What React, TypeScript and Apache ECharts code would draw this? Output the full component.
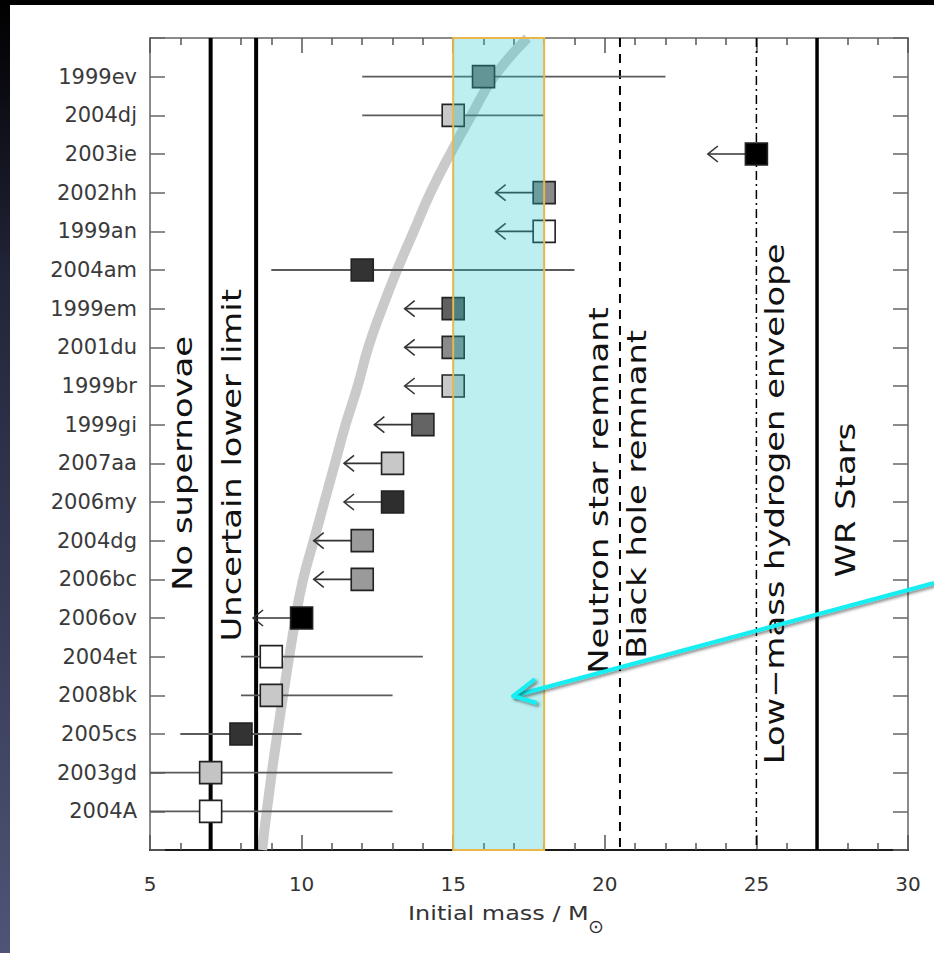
import React, { useEffect, useRef } from 'react';
import * as echarts from 'echarts';

// Supernovae, listed top to bottom
const SUPERNOVAE = [
  '1999ev', '2004dj', '2003ie', '2002hh', '1999an', '2004am', '1999em', '2001du', '1999br', '1999gi',
  '2007aa', '2006my', '2004dg', '2006bc', '2006ov', '2004et', '2008bk', '2005cs', '2003gd', '2004A',
];
// Progenitor initial mass estimate (solar masses)
const MASS = [16, 15, 25, 18, 18, 12, 15, 15, 15, 14, 13, 13, 12, 12, 10, 9, 9, 8, 7, 7];
// Error range for detections; null where only an upper limit exists
const ERR_LOW = [12, 12, null, null, null, 9, null, null, null, null, null, null, null, null, null, 8, 8, 6, 5, 5];
const ERR_HIGH = [22, 18, null, null, null, 19, null, null, null, null, null, null, null, null, null, 14, 13, 10, 13, 13];
const IS_UPPER_LIMIT = [
  false, false, true, true, true, false, true, true, true, true,
  true, true, true, true, true, false, false, false, false, false,
];
const LIMIT_ARROW = 1.6;

// Marker greys
const MARKER_FILL = [
  '#7e7e7e', '#c8c8c8', '#000000', '#8a8a8a', '#ffffff', '#333333', '#606060', '#8a8a8a', '#c8c8c8', '#646464',
  '#c8c8c8', '#2e2e2e', '#9a9a9a', '#9a9a9a', '#000000', '#ffffff', '#c8c8c8', '#333333', '#c4c4c4', '#ffffff',
];

// Broad grey trend curve (mass vs. row position)
const CURVE_MASS = [8.7, 8.85, 9.2, 9.8, 10.05, 10.4, 11.1, 11.45, 11.85, 12.2, 12.65, 13.15, 13.7, 14.25, 14.9, 15.6, 16.35, 17.45];
const CURVE_Y = [0, 1, 3, 6, 7, 8, 10, 11, 12, 13, 14, 15, 16, 17, 18, 19, 20, 21];

// Vertical boundaries
const VLINE_MASS = [7, 8.5, 20.5, 25, 27];
const VLINE_STYLE = [
  { lineWidth: 4, lineDash: null },
  { lineWidth: 4, lineDash: null },
  { lineWidth: 2, lineDash: [9, 7] },
  { lineWidth: 1.5, lineDash: [9, 4, 2, 4] },
  { lineWidth: 3.5, lineDash: null },
];

// Highlighted mass range
const BOX_RANGE = [15, 18];

// Rotated annotations
const ANNOTATION_TEXT = [
  'No supernovae', 'Uncertain lower limit', 'Neutron star remnant',
  'Black hole remnant', 'Low\u2212mass hydrogen envelope', 'WR Stars',
];
const ANNOTATION_MASS = [6.1, 7.7, 19.8, 21.05, 25.6, 27.95];
const ANNOTATION_Y = [10.0, 9.95, 9.3, 9.2, 8.95, 9.05];

const X_MIN = 5;
const X_MAX = 30;
const Y_MIN = 0;
const Y_MAX = SUPERNOVAE.length + 1;
const rowOf = (i: number) => SUPERNOVAE.length - i;

const FONT = 'DejaVu Sans';

export default function App() {
  const ref = useRef<HTMLDivElement>(null);

  useEffect(() => {
    if (!ref.current) return;
    const chart = echarts.init(ref.current, undefined, { renderer: 'svg' });

    const frameX = (position: 'bottom' | 'top', showLabel: boolean, lineColor: string) => ({
      type: 'value',
      position,
      min: X_MIN,
      max: X_MAX,
      interval: 5,
      axisLine: { show: true, onZero: false, lineStyle: { color: lineColor, width: 2 } },
      axisTick: { show: true, inside: true, length: 15, lineStyle: { color: '#555', width: 1.5 } },
      minorTick: { show: true, splitNumber: 5, length: 7, lineStyle: { color: '#555', width: 1.5 } },
      axisLabel: {
        show: showLabel,
        fontFamily: FONT,
        fontSize: 20,
        color: '#333',
        margin: 24,
      },
      splitLine: { show: false },
      minorSplitLine: { show: false },
    });

    const frameY = (position: 'left' | 'right', showLabel: boolean) => ({
      type: 'value',
      position,
      min: Y_MIN,
      max: Y_MAX,
      interval: 1,
      axisLine: { show: true, onZero: false, lineStyle: { color: '#8a8a8a', width: 2 } },
      axisTick: { show: true, inside: true, length: 15, lineStyle: { color: '#666', width: 1.5 } },
      axisLabel: {
        show: showLabel,
        fontFamily: FONT,
        fontSize: 21,
        color: '#3a3a3a',
        margin: 13,
        formatter: (v: number) => {
          const i = SUPERNOVAE.length - v;
          return v >= 1 && v <= SUPERNOVAE.length ? SUPERNOVAE[i] : '';
        },
      },
      splitLine: { show: false },
    });

    const errorData: number[][] = [];
    const limitData: number[][] = [];
    MASS.forEach((m, i) => {
      if (ERR_LOW[i] !== null && ERR_HIGH[i] !== null) {
        errorData.push([ERR_LOW[i] as number, ERR_HIGH[i] as number, rowOf(i)]);
      }
      if (IS_UPPER_LIMIT[i]) limitData.push([m, rowOf(i)]);
    });

    chart.setOption({
      animation: false,
      backgroundColor: 'transparent',
      grid: { left: 150, right: 26, top: 38, bottom: 103, containLabel: false },
      xAxis: [frameX('bottom', true, '#1a1a1a'), frameX('top', false, '#8a8a8a')],
      yAxis: [frameY('left', true), frameY('right', false)],
      series: [
        {
          name: 'trend',
          type: 'line',
          data: CURVE_MASS.map((m, i) => [m, CURVE_Y[i]]),
          smooth: 0.5,
          symbol: 'none',
          lineStyle: { color: '#cacaca', width: 10 },
          clip: true,
          silent: true,
          z: 1,
        },
        {
          name: 'boundaries',
          type: 'custom',
          data: VLINE_MASS.map((m) => [m]),
          silent: true,
          z: 2,
          renderItem: (params: any, api: any) => {
            const s = VLINE_STYLE[params.dataIndex];
            const top = api.coord([api.value(0), Y_MAX]);
            const bottom = api.coord([api.value(0), Y_MIN]);
            return {
              type: 'line',
              shape: { x1: top[0], y1: top[1], x2: bottom[0], y2: bottom[1] },
              style: { stroke: '#000', lineWidth: s.lineWidth, lineDash: s.lineDash || undefined },
            };
          },
        },
        {
          name: 'error bars',
          type: 'custom',
          data: errorData,
          silent: true,
          z: 3,
          renderItem: (params: any, api: any) => {
            const a = api.coord([api.value(0), api.value(2)]);
            const b = api.coord([api.value(1), api.value(2)]);
            return {
              type: 'line',
              shape: { x1: a[0], y1: a[1], x2: b[0], y2: b[1] },
              style: { stroke: '#5a5a5a', lineWidth: 1.8 },
            };
          },
        },
        {
          name: 'upper limits',
          type: 'custom',
          data: limitData,
          silent: true,
          z: 3,
          renderItem: (params: any, api: any) => {
            const p0 = api.coord([api.value(0), api.value(1)]);
            const p1 = api.coord([api.value(0) - LIMIT_ARROW, api.value(1)]);
            return {
              type: 'group',
              children: [
                {
                  type: 'line',
                  shape: { x1: p0[0], y1: p0[1], x2: p1[0], y2: p1[1] },
                  style: { stroke: '#333', lineWidth: 1.6 },
                },
                {
                  type: 'polyline',
                  shape: { points: [[p1[0] + 10, p1[1] - 8], [p1[0], p1[1]], [p1[0] + 10, p1[1] + 8]] },
                  style: { stroke: '#333', lineWidth: 1.6, fill: 'none' },
                },
              ],
            };
          },
        },
        {
          name: 'progenitors',
          type: 'scatter',
          symbol: 'rect',
          symbolSize: 22,
          data: MASS.map((m, i) => ({
            value: [m, rowOf(i)],
            itemStyle: { color: MARKER_FILL[i] },
          })),
          itemStyle: { borderColor: '#222', borderWidth: 1.6, opacity: 1 },
          silent: true,
          z: 5,
        },
        {
          name: 'mass range',
          type: 'custom',
          data: [BOX_RANGE],
          silent: true,
          z: 8,
          renderItem: (params: any, api: any) => {
            const tl = api.coord([api.value(0), Y_MAX]);
            const br = api.coord([api.value(1), Y_MIN]);
            return {
              type: 'rect',
              shape: { x: tl[0], y: tl[1], width: br[0] - tl[0], height: br[1] - tl[1] },
              style: { fill: 'rgba(35,202,205,0.3)', stroke: '#e8b64a', lineWidth: 2 },
            };
          },
        },
        {
          name: 'annotations',
          type: 'custom',
          data: ANNOTATION_MASS.map((m, i) => [m, ANNOTATION_Y[i]]),
          silent: true,
          z: 9,
          renderItem: (params: any, api: any) => {
            const p = api.coord([api.value(0), api.value(1)]);
            return {
              type: 'text',
              x: p[0],
              y: p[1],
              rotation: Math.PI / 2,
              scaleX: 1.3,
              style: {
                text: ANNOTATION_TEXT[params.dataIndex],
                fontFamily: FONT,
                fontSize: 26,
                fill: '#111',
                align: 'center',
                verticalAlign: 'middle',
              },
            };
          },
        },
      ],
      graphic: [
        {
          type: 'text',
          x: 408,
          y: 913,
          scaleX: 1.26,
          style: {
            text: 'Initial mass / M',
            fontFamily: FONT,
            fontSize: 19,
            fill: '#333',
            align: 'left',
            verticalAlign: 'middle',
          },
        },
        {
          type: 'text',
          x: 596,
          y: 926,
          style: {
            text: '\u2299',
            fontFamily: FONT,
            fontSize: 19,
            fill: '#333',
            align: 'center',
            verticalAlign: 'middle',
          },
        },
        {
          type: 'polyline',
          z: 100,
          shape: { points: [[934, 583], [513, 696]] },
          style: {
            stroke: '#12eef2',
            lineWidth: 4,
            fill: 'none',
            shadowBlur: 3,
            shadowColor: 'rgba(0,0,0,0.45)',
            shadowOffsetX: 2,
            shadowOffsetY: 2,
          },
        },
        {
          type: 'polyline',
          z: 100,
          shape: { points: [[535, 679], [513, 696], [537, 703]] },
          style: {
            stroke: '#12eef2',
            lineWidth: 4,
            fill: 'none',
            lineJoin: 'round',
            shadowBlur: 3,
            shadowColor: 'rgba(0,0,0,0.45)',
            shadowOffsetX: 2,
            shadowOffsetY: 2,
          },
        },
      ],
    });

    return () => chart.dispose();
  }, []);

  return (
    <div style={{ position: 'fixed', left: 0, top: 0, width: 934, height: 953, background: '#000', overflow: 'hidden' }}>
      <div
        style={{
          position: 'absolute', left: 0, top: 0, width: 10, height: 953,
          background: 'linear-gradient(to bottom, #000 0%, #23253a 30%, #4f5477 100%)',
        }}
      />
      <div style={{ position: 'absolute', left: 10, top: 5, right: 0, bottom: 0, background: '#fff' }} />
      <div ref={ref} style={{ position: 'absolute', left: 0, top: 0, width: 934, height: 953 }} />
    </div>
  );
}
